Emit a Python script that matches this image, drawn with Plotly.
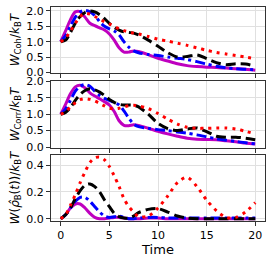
import plotly.graph_objects as go
from plotly.subplots import make_subplots

T = [0, 0.5, 1, 1.5, 2, 2.5, 3, 3.5, 4, 4.5, 5, 5.5, 6, 6.5, 7, 7.5, 8,
     9, 10, 11, 12, 13, 14, 15, 16, 17, 18, 19, 20]

# Panel 1: W_Coh / k_B T
coh_magenta = [1.0, 1.35, 1.72, 1.97, 1.98, 1.8, 1.6, 1.52, 1.45, 1.38, 1.25, 1.05, 0.8, 0.66,
               0.66, 0.7, 0.68, 0.58, 0.46, 0.37, 0.28, 0.22, 0.19, 0.17, 0.16, 0.14, 0.12, 0.1, 0.07]
coh_blue = [1.0, 1.2, 1.5, 1.8, 1.97, 2.02, 1.97, 1.85, 1.65, 1.5, 1.42, 1.35, 1.22, 1.0,
            0.82, 0.7, 0.64, 0.58, 0.55, 0.5, 0.46, 0.42, 0.35, 0.27, 0.2, 0.15, 0.12, 0.1, 0.08]
coh_black = [1.0, 1.05, 1.3, 1.6, 1.82, 1.95, 2.0, 1.97, 1.88, 1.75, 1.6, 1.47, 1.38, 1.32,
             1.3, 1.28, 1.22, 1.05, 0.85, 0.64, 0.5, 0.52, 0.57, 0.45, 0.32, 0.25, 0.28, 0.27, 0.2]
coh_red = [1.0, 1.12, 1.35, 1.6, 1.82, 1.92, 1.9, 1.82, 1.74, 1.65, 1.58, 1.5, 1.42, 1.36,
           1.32, 1.28, 1.25, 1.17, 1.08, 1.02, 0.95, 0.88, 0.8, 0.72, 0.65, 0.6, 0.55, 0.5, 0.45]

# Panel 2: W_Corr / k_B T
corr_magenta = [1.0, 1.3, 1.62, 1.83, 1.88, 1.8, 1.65, 1.55, 1.47, 1.38, 1.28, 1.08, 0.8, 0.66,
                0.65, 0.68, 0.66, 0.57, 0.48, 0.4, 0.33, 0.27, 0.24, 0.23, 0.22, 0.19, 0.16, 0.12, 0.09]
corr_blue = [1.0, 1.15, 1.42, 1.7, 1.85, 1.9, 1.85, 1.7, 1.57, 1.48, 1.42, 1.35, 1.28, 1.1,
             0.88, 0.7, 0.62, 0.57, 0.53, 0.5, 0.46, 0.42, 0.37, 0.31, 0.25, 0.21, 0.17, 0.13, 0.1]
corr_black = [1.0, 1.05, 1.2, 1.42, 1.6, 1.72, 1.77, 1.74, 1.67, 1.57, 1.45, 1.36, 1.3, 1.28,
              1.28, 1.27, 1.22, 1.0, 0.72, 0.56, 0.5, 0.55, 0.58, 0.47, 0.33, 0.3, 0.3, 0.27, 0.22]
corr_red = [1.0, 1.08, 1.22, 1.35, 1.44, 1.47, 1.45, 1.4, 1.33, 1.25, 1.18, 1.16, 1.18, 1.22,
            1.26, 1.27, 1.25, 1.17, 1.02, 0.85, 0.7, 0.6, 0.57, 0.57, 0.58, 0.58, 0.55, 0.48, 0.4]

# Panel 3: W(rho_B(t)) / k_B T
erg_magenta = [0, 0.03, 0.08, 0.11, 0.11, 0.08, 0.04, 0.01, 0.0, 0.0, 0.005, 0.01, 0.01, 0.005,
               0, 0, 0, 0.005, 0.005, 0, 0, 0, 0, 0, 0, 0, 0, 0, 0]
erg_blue = [0, 0.03, 0.08, 0.13, 0.16, 0.16, 0.13, 0.09, 0.05, 0.02, 0.01, 0.015, 0.02, 0.01,
            0, 0, 0.005, 0.01, 0.01, 0.005, 0.005, 0.005, 0.005, 0.005, 0.005, 0.005, 0.005, 0.005, 0.005]
erg_black = [0, 0.03, 0.08, 0.15, 0.21, 0.25, 0.26, 0.24, 0.2, 0.14, 0.09, 0.04, 0.015, 0.005,
             0.005, 0.02, 0.045, 0.07, 0.075, 0.05, 0.02, 0.005, 0, 0, 0, 0, 0, 0, 0]
erg_red = [0, 0.03, 0.1, 0.18, 0.27, 0.35, 0.42, 0.455, 0.46, 0.44, 0.39, 0.32, 0.24, 0.15,
           0.09, 0.05, 0.015, 0.02, 0.08, 0.17, 0.27, 0.31, 0.24, 0.14, 0.06, 0.01, 0.01, 0.05, 0.12]

x_ticks = [0, 5, 10, 15, 20]

styles = [
    ("#bf00bf", "solid"),
    ("#0000ff", "10px,4px,3px,4px"),
    ("#000000", "10px,5px"),
    ("#ff0000", "3px,5px"),
]

panels = [
    [coh_magenta, coh_blue, coh_black, coh_red],
    [corr_magenta, corr_blue, corr_black, corr_red],
    [erg_magenta, erg_blue, erg_black, erg_red],
]

fig = make_subplots(rows=3, cols=1, shared_xaxes=True, vertical_spacing=0.035)

for r, series in enumerate(panels, start=1):
    for vals, (col, dash) in zip(series, styles):
        fig.add_trace(go.Scatter(x=T, y=vals, mode="lines",
                                 line=dict(color=col, width=3, dash=dash, shape="spline", smoothing=0.8),
                                 showlegend=False), row=r, col=1)

H = 214.0
fig.update_layout(
    width=274, height=264,
    margin=dict(l=51, r=9, t=7, b=43),
    paper_bgcolor="white", plot_bgcolor="white",
    font=dict(family="DejaVu Sans", size=11, color="black"),
    yaxis=dict(domain=[147.7 / H, 1.0]),
    yaxis2=dict(domain=[73.3 / H, 139.7 / H]),
    yaxis3=dict(domain=[0.0, 66.0 / H]),
)

axis_common = dict(showline=True, linecolor="#333", linewidth=1, mirror=True,
                   showgrid=True, gridcolor="#e0e0e0", gridwidth=1, zeroline=False,
                   ticks="outside", ticklen=4, tickcolor="#333", tickfont=dict(size=11),
                   automargin=False)

for r in range(1, 4):
    fig.update_xaxes(range=[-1, 21], tickvals=x_ticks, showticklabels=(r == 3), row=r, col=1, **axis_common)

fig.update_xaxes(title=dict(text="Time", font=dict(size=13), standoff=2), row=3, col=1)

fig.update_yaxes(range=[-0.03, 2.13], tickvals=[0, 0.5, 1.0, 1.5, 2.0],
                 ticktext=["0.0", "0.5", "1.0", "1.5", "2.0"],
                 title=dict(text="<i>W</i><sub>Coh</sub>/<i>k</i><sub>B</sub><i>T</i>", font=dict(size=12), standoff=4),
                 row=1, col=1, **axis_common)
fig.update_yaxes(range=[-0.02, 2.0], tickvals=[0, 0.5, 1.0, 1.5, 2.0],
                 ticktext=["0.0", "0.5", "1.0", "1.5", "2.0"],
                 title=dict(text="<i>W</i><sub>Corr</sub>/<i>k</i><sub>B</sub><i>T</i>", font=dict(size=12), standoff=4),
                 row=2, col=1, **axis_common)
fig.update_yaxes(range=[-0.017, 0.476], tickvals=[0, 0.2, 0.4],
                 ticktext=["0.0", "0.2", "0.4"],
                 title=dict(text="<i>W</i>(<i>ρ̂</i><sub>B</sub>(<i>t</i>))/<i>k</i><sub>B</sub><i>T</i>", font=dict(size=12), standoff=4),
                 row=3, col=1, **axis_common)

fig.write_html("out.html", config={"displayModeBar": False},
               post_script="document.body.style.margin='0';document.body.style.overflow='hidden';")
